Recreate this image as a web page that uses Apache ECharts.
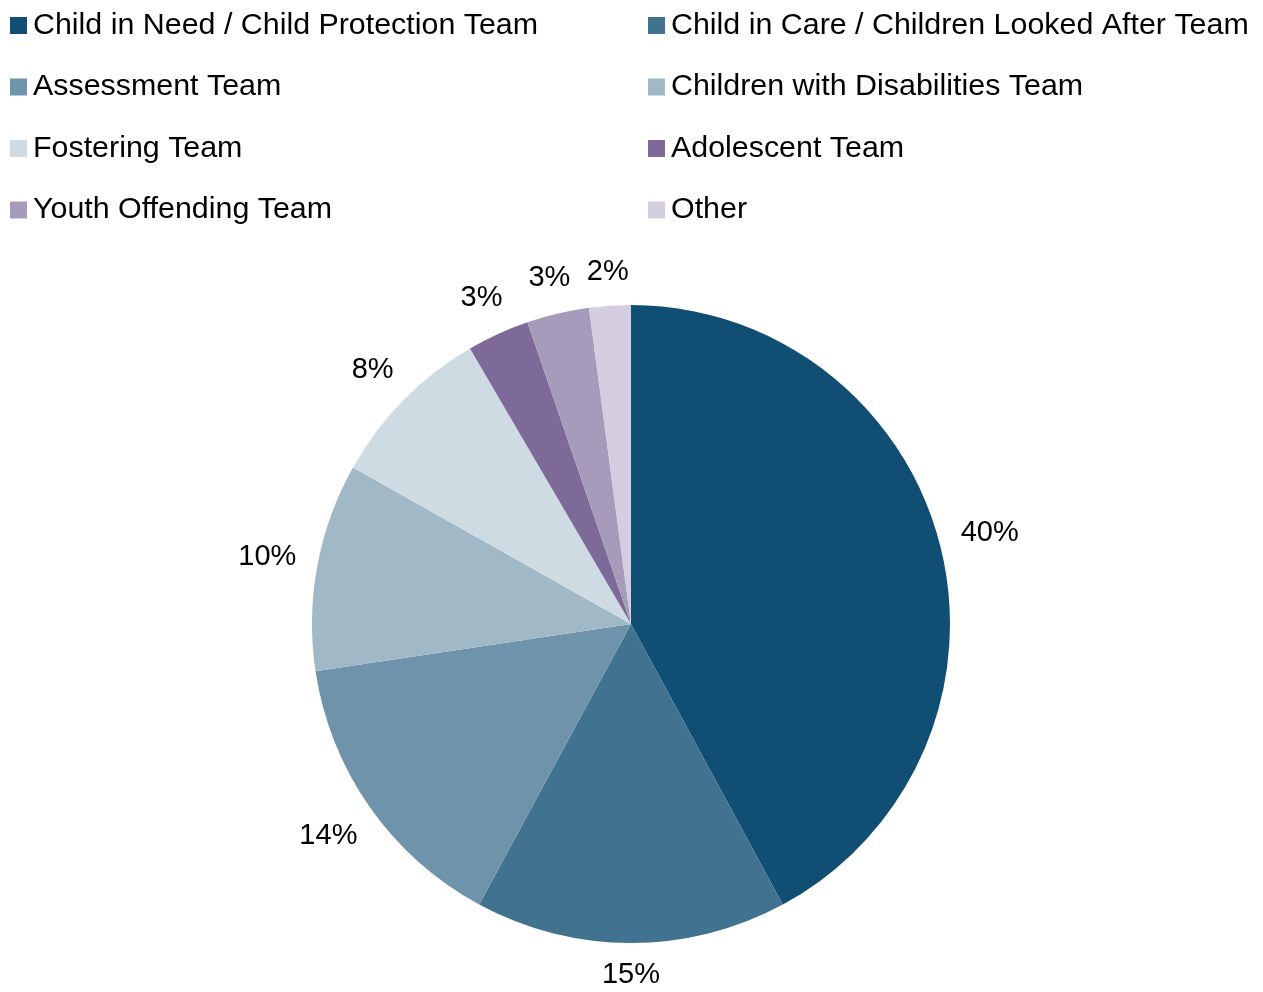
<!DOCTYPE html>
<html>
<head>
<meta charset="utf-8">
<script src="https://cdn.jsdelivr.net/npm/echarts@6/dist/echarts.min.js"></script>
<style>
  html, body { margin: 0; padding: 0; background: #ffffff; }
  #chart { width: 1263px; height: 992px; }
</style>
</head>
<body>
<div id="chart"></div>
<script>
// Teams and their share of the caseload (percent)
const teams = [
  'Child in Need / Child Protection Team',
  'Child in Care / Children Looked After Team',
  'Assessment Team',
  'Children with Disabilities Team',
  'Fostering Team',
  'Adolescent Team',
  'Youth Offending Team',
  'Other'
];
const shares = [40, 15, 14, 10, 8, 3, 3, 2];
const colours = ['#114E73', '#41728F', '#6F93AB', '#A1B8C7', '#CFDBE2', '#7D6A99', '#A69BBB', '#D3CDDF'];

const FONT = '"Liberation Sans", Arial, sans-serif';
const CENTER = [631, 624];
const RADIUS = 319;
const LABEL_GAP = 20;      // space between the rim and the nearest edge of a label
const LABEL_HALF_H = 12;   // half the height of a label's glyphs

const slices = teams.map((name, i) => ({ name: name, value: shares[i] }));

const chart = echarts.init(document.getElementById('chart'), null, { renderer: 'canvas' });

const legendBase = {
  orient: 'vertical',
  top: 5,
  itemWidth: 17,
  itemHeight: 17,
  itemGap: 30.5,
  icon: 'rect',
  selectedMode: false,
  textStyle: { fontFamily: FONT, fontSize: 30.4, color: '#000', lineHeight: 31, padding: [0, 0, 0, 1] }
};

// Push each percentage label out along its slice's bisector so the
// label box sits a fixed gap beyond the rim.
function placeOutside(params) {
  const r = params.labelRect;
  const lx = r.x + r.width / 2;
  const ly = r.y + r.height / 2;
  let ux = lx - CENTER[0];
  let uy = ly - CENTER[1];
  const len = Math.sqrt(ux * ux + uy * uy) || 1;
  ux /= len; uy /= len;
  const d = RADIUS + LABEL_GAP + Math.abs(ux) * r.width / 2 + Math.abs(uy) * LABEL_HALF_H;
  return {
    x: CENTER[0] + ux * d,
    y: CENTER[1] + uy * d,
    align: 'center',
    verticalAlign: 'middle'
  };
}

chart.setOption({
  animation: false,
  color: colours,
  legend: [
    Object.assign({}, legendBase, { left: 5, data: teams.filter((_, i) => i % 2 === 0) }),
    Object.assign({}, legendBase, { left: 643, data: teams.filter((_, i) => i % 2 === 1) })
  ],
  series: [
    {
      type: 'pie',
      center: CENTER,
      radius: [0, RADIUS],
      startAngle: 90,
      clockwise: true,
      avoidLabelOverlap: false,
      itemStyle: { borderWidth: 0 },
      label: {
        show: true,
        position: 'inside',
        formatter: p => p.value + '%',
        fontFamily: FONT,
        fontSize: 29,
        color: '#000'
      },
      labelLine: { show: false },
      labelLayout: placeOutside,
      emphasis: { disabled: true },
      data: slices
    }
  ]
});
</script>
</body>
</html>
